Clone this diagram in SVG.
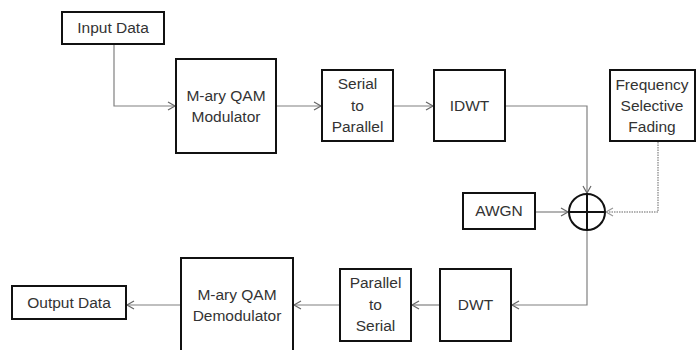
<svg xmlns="http://www.w3.org/2000/svg" width="696" height="350" viewBox="0 0 696 350">
<defs>
<style>
.box{fill:#fff;stroke:#111;stroke-width:2}
.t{font-family:"Liberation Sans",Arial,sans-serif;font-size:15.5px;fill:#333;text-anchor:middle}
.c{fill:none;stroke:#808080;stroke-width:1.2}
.d{fill:none;stroke:#999;stroke-width:1.5;stroke-dasharray:1.5 1}
</style>
<marker id="a" markerWidth="10" markerHeight="10" refX="8" refY="5" orient="auto" markerUnits="userSpaceOnUse">
<path d="M1,1 L8,5 L1,9" fill="none" stroke="#666" stroke-width="1.2"/>
</marker>
<marker id="ad" markerWidth="10" markerHeight="10" refX="8" refY="5" orient="auto" markerUnits="userSpaceOnUse">
<path d="M1,1 L8,5 L1,9" fill="none" stroke="#999" stroke-width="1.2"/>
</marker>
</defs>
<rect width="696" height="350" fill="#fff"/>
<g id="connectors">
<path class="c" d="M114,44 V106 H175" marker-end="url(#a)"/>
<path class="c" d="M277,106 H321" marker-end="url(#a)"/>
<path class="c" d="M394,106 H433" marker-end="url(#a)"/>
<path class="c" d="M506,106 H587 V193" marker-end="url(#a)"/>
<path class="d" d="M658,142 V212 H606" marker-end="url(#ad)"/>
<path class="c" d="M536,212 H568" marker-end="url(#a)"/>
<path class="c" d="M587,231 V305 H512" marker-end="url(#a)"/>
<path class="c" d="M439,305 H412" marker-end="url(#a)"/>
<path class="c" d="M339,305 H294" marker-end="url(#a)"/>
<path class="c" d="M180,305 H127" marker-end="url(#a)"/>
</g>
<g id="input">
<rect class="box" x="62" y="12" width="102" height="32"/>
<text class="t" x="113" y="33">Input Data</text>
</g>
<g id="modulator">
<rect class="box" x="176" y="59" width="100" height="94"/>
<text class="t" x="226" y="101">M-ary QAM</text>
<text class="t" x="226" y="122">Modulator</text>
</g>
<g id="s2p">
<rect class="box" x="322" y="70" width="71" height="71"/>
<text class="t" x="357.5" y="89">Serial</text>
<text class="t" x="357.5" y="111">to</text>
<text class="t" x="357.5" y="132">Parallel</text>
</g>
<g id="idwt">
<rect class="box" x="434" y="70" width="71" height="71"/>
<text class="t" x="469.5" y="111">IDWT</text>
</g>
<g id="fading">
<rect class="box" x="610" y="70" width="85" height="71"/>
<text class="t" x="652" y="90">Frequency</text>
<text class="t" x="652" y="111">Selective</text>
<text class="t" x="652" y="132">Fading</text>
</g>
<g id="sum">
<circle cx="587" cy="212" r="18" fill="#fff" stroke="#111" stroke-width="2"/>
<path d="M569,212 H605 M587,194 V230" stroke="#111" stroke-width="2"/>
</g>
<g id="awgn">
<rect class="box" x="463" y="193" width="72" height="36"/>
<text class="t" x="499" y="216">AWGN</text>
</g>
<g id="dwt">
<rect class="box" x="440" y="269" width="71" height="72"/>
<text class="t" x="475.5" y="310">DWT</text>
</g>
<g id="p2s">
<rect class="box" x="340" y="269" width="71" height="72"/>
<text class="t" x="375.5" y="288">Parallel</text>
<text class="t" x="375.5" y="310">to</text>
<text class="t" x="375.5" y="331">Serial</text>
</g>
<g id="demodulator">
<rect class="box" x="181" y="258" width="112" height="100"/>
<text class="t" x="237" y="300">M-ary QAM</text>
<text class="t" x="237" y="321">Demodulator</text>
</g>
<g id="output">
<rect class="box" x="12" y="286" width="114" height="33"/>
<text class="t" x="69" y="308">Output Data</text>
</g>
</svg>
